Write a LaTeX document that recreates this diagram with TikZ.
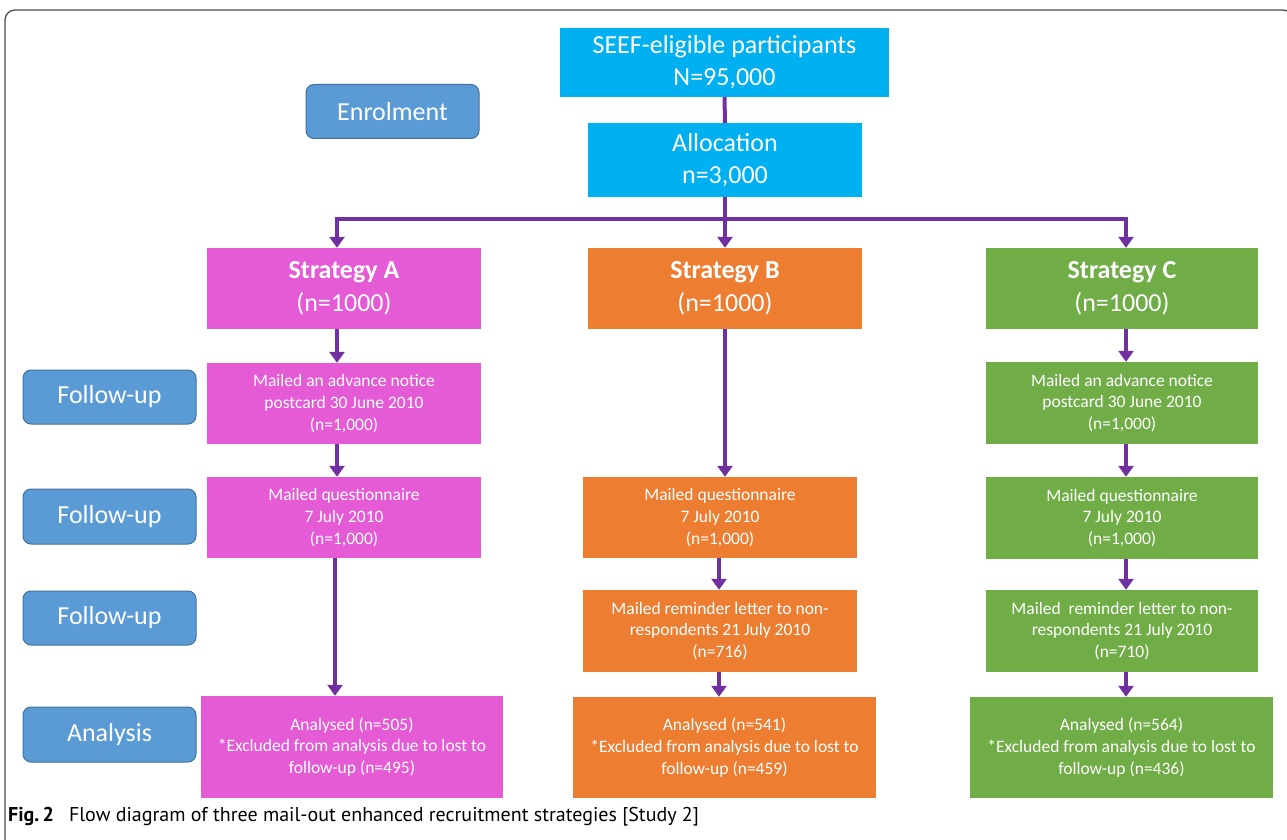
\documentclass[tikz,border=0pt]{standalone}
\usepackage{fontspec}
\setmainfont{Carlito}
\newfontfamily\capfont{PT Sans}
\usetikzlibrary{arrows.meta}
\definecolor{seefblue}{HTML}{00B0F0}
\definecolor{stratA}{HTML}{E55AD5}
\definecolor{stratB}{HTML}{ED7D31}
\definecolor{stratC}{HTML}{70AD47}
\definecolor{phaseblue}{HTML}{5B9BD5}
\definecolor{phaseline}{HTML}{41719C}
\definecolor{flowpurple}{HTML}{7030A0}

\begin{document}
\begin{tikzpicture}[x=1pt,y=-1pt,
    box/.style={inner sep=0pt,align=center,text=white,minimum width=274pt,minimum height=81pt,
      font=\fontsize{17.5}{21.7}\selectfont},
    top/.style={box,fill=seefblue,font=\fontsize{26}{32}\selectfont},
    phase/.style={inner sep=0pt,text=white,fill=phaseblue,draw=phaseline,line width=1pt,
      rounded corners=8pt,minimum width=173pt,minimum height=54pt,font=\fontsize{26}{30}\selectfont},
    strat/.style={box,font=\fontsize{26}{33}\selectfont},
    flow/.style={draw=flowpurple,line width=4pt,-{Triangle[width=15pt,length=11pt]}},
    link/.style={draw=flowpurple,line width=4pt}]
  \useasboundingbox (0,0) rectangle (1287,840);
  \draw[gray!60!black,line width=1.3pt,rounded corners=10pt] (5,860) -- (5,10) -- (1293,10) -- (1293,860);
  % top of the chart
  \node[top,minimum width=329pt,minimum height=69pt] (seef) at (724.5,62.5) {SEEF-eligible participants\\N=95,000};
  \node[top,minimum height=74pt] (alloc) at (725,160) {Allocation\\n=3,000};
  \node[phase] (enrol) at (392.5,111.5) {Enrolment};
  \node[phase] (fu1) at (109.5,397) {Follow-up}; \node[phase,minimum height=55pt] (fu2) at (109.5,516.5) {Follow-up};
  \node[phase] (fu3) at (109.5,618) {Follow-up}; \node[phase,minimum height=55pt] (anl) at (109.5,734.5) {Analysis};
  % strategies
  \node[strat,fill=stratA] (stA) at (344,288.5) {\textbf{Strategy A}\\(n=1000)};
  \node[strat,fill=stratB] (stB) at (725,288.5) {\textbf{Strategy B}\\(n=1000)};
  \node[strat,fill=stratC,minimum width=272pt] (stC) at (1122,288.5) {\textbf{Strategy C}\\(n=1000)};
  \node[box,fill=stratA] (a1) at (344,403.5) {Mailed an advance notice\\postcard 30 June 2010\\(n=1,000)};
  \node[box,fill=stratA] (a2) at (344,517.5) {Mailed questionnaire\\7 July 2010\\(n=1,000)};
  \node[box,fill=stratA,minimum width=302pt,minimum height=102pt] (aan) at (352,747)
    {Analysed (n=505)\\*Excluded from analysis due to lost to\\follow-up (n=495)};
  \node[box,fill=stratB] (b2) at (720,517.5) {Mailed questionnaire\\7 July 2010\\(n=1,000)};
  \node[box,fill=stratB,minimum height=82pt] (b3) at (720,631) {Mailed reminder letter to non-\\respondents 21 July 2010\\(n=716)};
  \node[box,fill=stratB,minimum width=303pt,minimum height=101pt] (ban) at (724.5,747.5)
    {Analysed (n=541)\\*Excluded from analysis due to lost to\\follow-up (n=459)};
  \node[box,fill=stratC,minimum width=272pt,minimum height=82pt] (c1) at (1122,403) {Mailed an advance notice\\postcard 30 June 2010\\(n=1,000)};
  \node[box,fill=stratC,minimum width=272pt,minimum height=82pt] (c2) at (1122,518) {Mailed questionnaire\\7 July 2010\\(n=1,000)};
  \node[box,fill=stratC,minimum width=272pt,minimum height=82pt] (c3) at (1122,631) {Mailed\ \ reminder letter to non-\\respondents 21 July 2010\\(n=710)};
  \node[box,fill=stratC,minimum width=303pt,minimum height=101pt] (can) at (1121.5,747.5)
    {Analysed (n=564)\\*Excluded from analysis due to lost to\\follow-up (n=436)};
  \coordinate (split) at (725,219);
  \draw[link] (seef.south) -- (alloc.north);
  \draw[link] (alloc.south) -- (split);
  \draw[flow] (split) -- (stB.north);
  \draw[flow] (split) -| ([xshift=-7pt]stA.north);
  \draw[flow] (split) -| ([xshift=4pt]stC.north);
  \draw[flow] ([xshift=-7pt]stA.south) -- ([xshift=-7pt]a1.north);
  \draw[flow] ([xshift=-7pt]a1.south) -- ([xshift=-7pt]a2.north);
  \draw[flow] ([xshift=-9pt]a2.south) -- ([xshift=-9pt]a2.south |- aan.north);
  \draw[flow] (stB.south) -- (stB.south |- b2.north);
  \draw[flow] ([xshift=-1pt]b2.south) -- ([xshift=-1pt]b3.north);
  \draw[flow] ([xshift=-1pt]b3.south) -- ([xshift=-1pt]b3.south |- ban.north);
  \draw[flow] ([xshift=4pt]stC.south) -- ([xshift=4pt]c1.north);
  \draw[flow] ([xshift=4pt]c1.south) -- ([xshift=4pt]c2.north);
  \draw[flow] ([xshift=4pt]c2.south) -- ([xshift=4pt]c3.north);
  \draw[flow] ([xshift=4pt]c3.south) -- ([xshift=4pt]c3.south |- can.north);
  \node[anchor=base west,inner sep=0pt,font=\capfont\fontsize{20}{22}\selectfont] (caption) at (8,821)
    {\textbf{Fig.\,2}\hspace{15pt}Flow diagram of three mail-out enhanced recruitment strategies [Study 2]};
\end{tikzpicture}
\end{document}
